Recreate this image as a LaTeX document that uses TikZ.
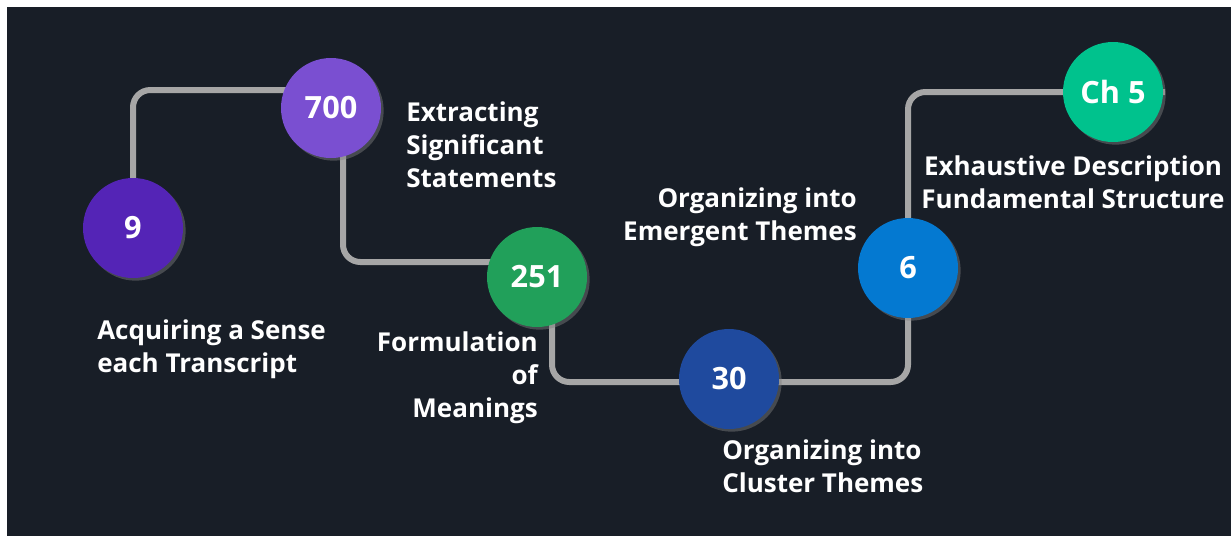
\documentclass[tikz,border=0pt]{standalone}
\usepackage{fontspec}
\setmainfont{Open Sans}
\usetikzlibrary{positioning, calc, backgrounds, shadows}

\definecolor{PanelDark}{HTML}{181E27}
\definecolor{LinkGrey}{HTML}{A6A6A6}
\definecolor{StepIndigo}{HTML}{5424B6}
\definecolor{StepViolet}{HTML}{7A4FD1}
\definecolor{StepGreen}{HTML}{21A05A}
\definecolor{StepNavy}{HTML}{1F4A9E}
\definecolor{StepBlue}{HTML}{0479D1}
\definecolor{StepMint}{HTML}{00C28D}

\tikzset{
    % Numbered stage circle
    stage/.style={
        circle,
        minimum size=75pt,
        inner sep=0pt,
        text=white,
        font=\fontsize{23}{27}\selectfont\bfseries,
        drop shadow={opacity=0.45, shadow xshift=2pt, shadow yshift=-2pt}
    },
    % Stage caption
    caption/.style={
        text=white,
        inner sep=0pt,
        font=\fontsize{19.5}{24.75}\selectfont\bfseries
    },
    % Connector line
    link/.style={
        draw=LinkGrey,
        line width=4.5pt,
        rounded corners=13pt
    }
}

\begin{document}
\begin{tikzpicture}[x=0.75pt, y=-0.75pt]
    \useasboundingbox (0,0) rectangle (1231,537);

    % Stages
    \node (s9) [stage, fill=StepIndigo] at (133,228) {9};
    \node (s700) [stage, fill=StepViolet] at (331,108) {700};
    \node (s251) [stage, fill=StepGreen] at (537,277) {251};
    \node (s30) [stage, fill=StepNavy] at (729,379) {30};
    \node (s6) [stage, fill=StepBlue] at (908,268) {6};
    \node (sch5) [stage, fill=StepMint] at (1113,92) {Ch 5};

    % Captions
    \node (c9) [caption, anchor=west, align=left] at (97,349) {Acquiring a Sense\\each Transcript};
    \node (c700) [caption, anchor=west, align=left] at (406,145) {Extracting\\Significant\\Statements};
    \node (c251) [caption, anchor=east, align=right] at (538,378) {Formulation\\of\\Meanings};
    \node (c30) [caption, anchor=west, align=left] at (722,466) {Organizing into\\Cluster Themes};
    \node (c6) [caption, anchor=east, align=right] at (857,217) {Organizing into\\Emergent Themes};
    \node (cch5) [caption, align=center] at (1073,182) {Exhaustive Description\\Fundamental Structure};

    \begin{scope}[on background layer]
        \fill [PanelDark] (7,7) rectangle (1231,536);
        \draw [link] (s9.center) |- ($(s700.center)+(0,-18)$);
        \draw [link] ($(s700.center)+(12,0)$) |- ($(s251.center)+(0,-15)$);
        \draw [link] ($(s251.center)+(15,0)$) |- ($(s30.center)+(0,3)$);
        \draw [link] ($(s30.center)+(0,3)$) -| (s6.center);
        \draw [link] (s6.center) |- ($(sch5.center)+(52,0)$);
    \end{scope}
\end{tikzpicture}
\end{document}
